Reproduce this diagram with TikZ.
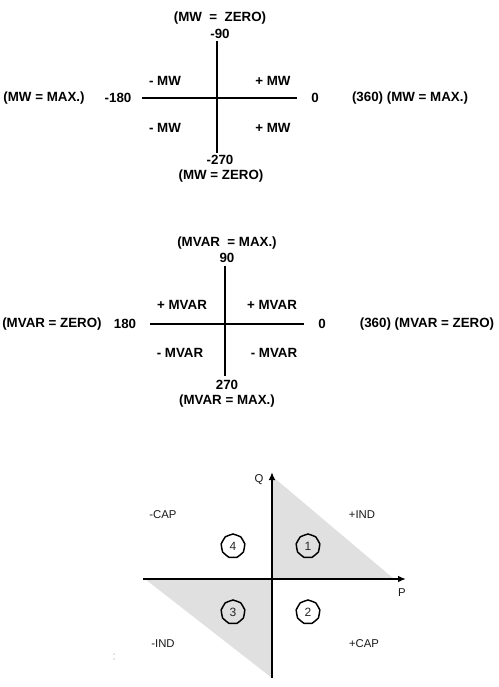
\documentclass[tikz,border=0pt]{standalone}
\usepackage{fontspec}
\setmainfont{Liberation Sans}
\usetikzlibrary{arrows.meta,shapes.symbols}
\begin{document}
\begin{tikzpicture}[x=0.75pt,y=-0.75pt,
  lbl/.style={font=\bfseries\fontsize{10}{12}\selectfont, inner sep=0pt, anchor=center},
  axis/.style={line width=0.8pt, black},
  qlbl/.style={font=\fontsize{8.5}{10}\selectfont, text=black!90, inner sep=0pt},
  qaxis/.style={line width=1.2pt, black, -{Latex[length=6pt,width=5pt]}},
  num/.style={cloud, cloud puffs=9, cloud puff arc=70, aspect=1, draw=black, line width=1.1pt,
     minimum size=18pt, inner sep=0pt, font=\fontsize{9}{10}\selectfont, text=black!85},
  shade/.style={fill=black!12, draw=none}]
\useasboundingbox (0,0) rectangle (499,687);
% ---------- top diagram
\coordinate (t1) at (217,41);
\coordinate (b1) at (217,153);
\coordinate (l1) at (142,98);
\coordinate (r1) at (297,98);
\draw[axis] (t1) -- (b1);
\draw[axis] (l1) -- (r1);
\node[lbl] (a1) at (220,18) {(MW \ = \ ZERO)};
\node[lbl] (a2) at (220,34) {-90};
\node[lbl] (a3) at (220,160) {-270};
\node[lbl] (a4) at (221,176) {(MW = ZERO)};
\node[lbl] (a5) at (44,98) {(MW = MAX.)};
\node[lbl] (a6) at (118,98) {-180};
\node[lbl] (a7) at (315,98) {0};
\node[lbl] (a8) at (410,98) {(360) (MW = MAX.)};
\node[lbl] (a9) at (165,81) {- MW};
\node[lbl] (a10) at (273,81) {+ MW};
\node[lbl] (a11) at (165,128) {- MW};
\node[lbl] (a12) at (273,128) {+ MW};
% ---------- middle diagram
\coordinate (t2) at (225,266);
\coordinate (b2) at (225,376);
\coordinate (l2) at (150,324);
\coordinate (r2) at (304,324);
\draw[axis] (t2) -- (b2);
\draw[axis] (l2) -- (r2);
\node[lbl] (c1) at (227,243) {(MVAR \ = MAX.)};
\node[lbl] (c2) at (227,258) {90};
\node[lbl] (c3) at (227,385) {270};
\node[lbl] (c4) at (227,401) {(MVAR = MAX.)};
\node[lbl] (c5) at (52,324) {(MVAR = ZERO)};
\node[lbl] (c6) at (125,324) {180};
\node[lbl] (c7) at (322,324) {0};
\node[lbl] (c8) at (427,324) {(360) (MVAR = ZERO)};
\node[lbl] (c9) at (182,305) {+ MVAR};
\node[lbl] (c10) at (272,305) {+ MVAR};
\node[lbl] (c11) at (180,353) {- MVAR};
\node[lbl] (c12) at (274,353) {- MVAR};
% ---------- bottom diagram
\coordinate (o) at (272,579);
\coordinate (qt) at (272,472);
\coordinate (qb) at (272,678);
\coordinate (pl) at (143,579);
\coordinate (pr) at (406,579);
\coordinate (s1) at (272,476);
\coordinate (s2) at (394,579);
\coordinate (s3) at (145,579);
\coordinate (s4) at (272,678);
\fill[shade] (o) -- (s1) -- (s2) -- cycle;
\fill[shade] (o) -- (s3) -- (s4) -- cycle;
\draw[qaxis] (qb) -- (qt);
\draw[qaxis] (pl) -- (pr);
\node[qlbl] (q) at (259,480) {Q};
\node[qlbl] (p) at (402,593) {P};
\node[qlbl] (d1) at (163,515) {-CAP};
\node[qlbl] (d2) at (362,515) {+IND};
\node[qlbl] (d3) at (163,644) {-IND};
\node[qlbl] (d4) at (364,644) {+CAP};
\node[num] (n4) at (233,546) {4};
\node[num] (n1) at (308,546) {1};
\node[num] (n3) at (233,612) {3};
\node[num] (n2) at (308,612) {2};
\fill[black!40] (114,654) circle (0.6) (114,659) circle (0.6);
\end{tikzpicture}
\end{document}
